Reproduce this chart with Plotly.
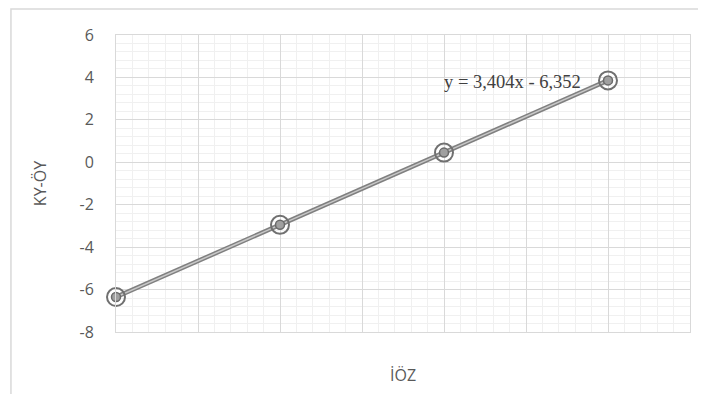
import numpy as np
import plotly.graph_objects as go

# Data
x_vals = [0, 1, 2, 3]
y_vals = [-6.352, -2.948, 0.456, 3.860]
y_ticks = [6, 4, 2, 0, -2, -4, -6, -8]
equation = "y = 3,404x - 6,352"
x_title = "İÖZ"
y_title = "KY-ÖY"

# page body has an 8px margin -> compensate
W, H = 698, 386

fig = go.Figure()

# double (compound) line: dark outer + light inner
fig.add_trace(go.Scatter(x=x_vals, y=y_vals, mode="lines", cliponaxis=False,
                         line=dict(color="#808080", width=4.5), hoverinfo="skip", showlegend=False))
fig.add_trace(go.Scatter(x=x_vals, y=y_vals, mode="lines", cliponaxis=False,
                         line=dict(color="#c8c8c8", width=1.5), hoverinfo="skip", showlegend=False))
# markers: outer ring + inner dot
fig.add_trace(go.Scatter(x=x_vals, y=y_vals, mode="markers", cliponaxis=False,
                         marker=dict(size=18, color="rgba(255,255,255,0)",
                                     line=dict(color="#707070", width=2)),
                         showlegend=False))
fig.add_trace(go.Scatter(x=x_vals, y=y_vals, mode="markers", cliponaxis=False,
                         marker=dict(size=9, color="#a0a0a0",
                                     line=dict(color="#6a6a6a", width=1.5)),
                         showlegend=False))

fig.update_layout(
    width=W, height=H,
    margin=dict(l=108, r=16, t=27, b=62, pad=0),
    paper_bgcolor="white", plot_bgcolor="white",
    font=dict(family="Open Sans, Noto Sans, sans-serif", color="#595959", size=16),
    xaxis=dict(range=[0, 3.5], dtick=0.5, tick0=0, showticklabels=False,
               showgrid=True, gridcolor="#d9d9d9", gridwidth=1,
               minor=dict(dtick=0.1, tick0=0, showgrid=True, gridcolor="#f0f0f0", gridwidth=1),
               zeroline=False, showline=True, linecolor="#d9d9d9", mirror=True, ticks=""),
    yaxis=dict(range=[-8, 6], tickmode="array", tickvals=y_ticks,
               ticktext=[str(v) for v in y_ticks],
               showgrid=True, gridcolor="#d9d9d9", gridwidth=1,
               minor=dict(dtick=0.4, tick0=-8, showgrid=True, gridcolor="#f0f0f0", gridwidth=1),
               zeroline=False, showline=True, linecolor="#d9d9d9", mirror=True, ticks="",
               ticklabelstandoff=18, tickfont=dict(size=16, color="#595959")),
    shapes=[dict(type="rect", xref="paper", yref="paper",
                 x0=-0.183, x1=1.2, y0=-0.5, y1=1.0875,
                 line=dict(color="#d9d9d9", width=1.5), layer="below")],
    annotations=[
        dict(text=equation, x=2.848, y=3.78, xref="x", yref="y", xanchor="right",
             yanchor="middle", showarrow=False,
             font=dict(family="Liberation Serif, Times New Roman, serif", size=18.5, color="#404040")),
        dict(text=x_title, x=0.5, y=-0.145, xref="paper", yref="paper", xanchor="center",
             yanchor="middle", showarrow=False, font=dict(size=16, color="#595959")),
        dict(text=y_title, x=-0.133, y=0.5, xref="paper", yref="paper", xanchor="center",
             yanchor="middle", showarrow=False, textangle=-90, font=dict(size=16, color="#595959")),
    ],
)

fig.write_html("out.html")
